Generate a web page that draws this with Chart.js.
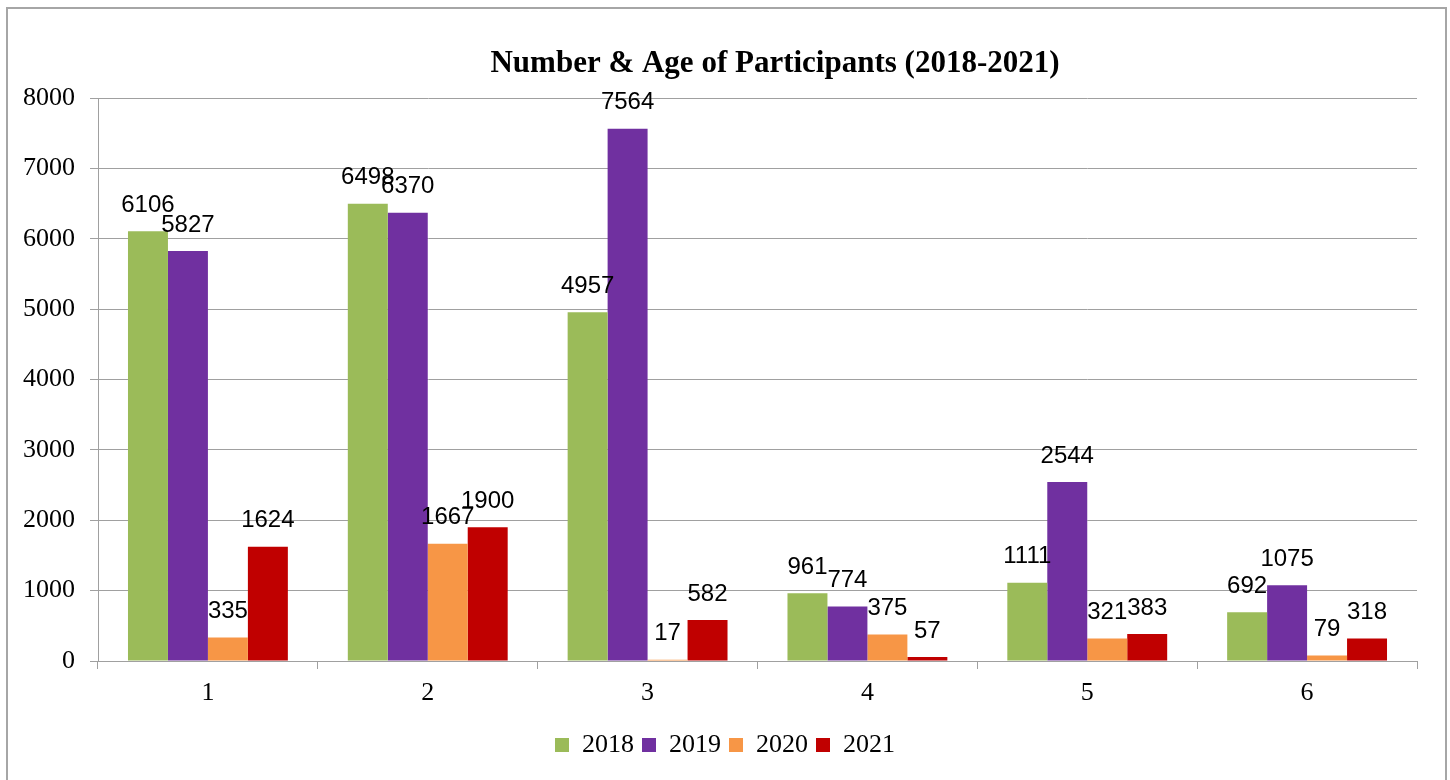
<!DOCTYPE html>
<html>
<head>
<meta charset="utf-8">
<script src="https://cdn.jsdelivr.net/npm/chart.js@4"></script>
<style>
  html, body { margin: 0; padding: 0; background: #fff; }
  #wrap { position: relative; width: 1450px; height: 780px; overflow: hidden; }
  #frame { position: absolute; left: 6px; top: 7px; width: 1437px; height: 800px; border: 2px solid #a6a6a6; }
  canvas { position: absolute; left: 0; top: 0; }
</style>
</head>
<body>
<div id="wrap">
  <div id="frame"></div>
  <canvas id="chart" width="1450" height="780"></canvas>
</div>
<script>
// chart values
const categories = ['1', '2', '3', '4', '5', '6'];
const years = ['2018', '2019', '2020', '2021'];
const values2018 = [6106, 6498, 4957, 961, 1111, 692];
const values2019 = [5827, 6370, 7564, 774, 2544, 1075];
const values2020 = [335, 1667, 17, 375, 321, 79];
const values2021 = [1624, 1900, 582, 57, 383, 318];
const yTicks = [0, 1000, 2000, 3000, 4000, 5000, 6000, 7000, 8000];
const chartTitle = 'Number & Age of Participants (2018-2021)';

const barColors = ['#9bbb59', '#7030a0', '#f79646', '#c00000'];
const series = [values2018, values2019, values2020, values2021];
const serif = '"Liberation Serif", "Times New Roman", serif';

// labels above every bar, Excel style
const barLabels = {
    id: 'barLabels',
    afterDatasetsDraw(chart) {
        const ctx = chart.ctx;
        ctx.save();
        ctx.font = '24px "Liberation Sans", Arial, sans-serif';
        ctx.fillStyle = '#000';
        ctx.textAlign = 'center';
        ctx.textBaseline = 'middle';
        chart.data.datasets.forEach((ds, i) => {
            chart.getDatasetMeta(i).data.forEach((bar, j) => {
                ctx.fillText(String(ds.data[j]), bar.x, bar.y - 26);
            });
        });
        ctx.restore();
    }
};

const titlePlugin = {
    id: 'topTitle',
    afterDraw(chart) {
        const ctx = chart.ctx;
        ctx.save();
        ctx.font = 'bold 31px ' + serif;
        ctx.fillStyle = '#000';
        ctx.textAlign = 'center';
        ctx.textBaseline = 'middle';
        ctx.fillText(chartTitle, 775, 64);
        ctx.restore();
    }
};

const ctx = document.getElementById('chart');

new Chart(ctx, {
    type: 'bar',
    data: {
        labels: categories,
        datasets: years.map((y, i) => ({
            label: y,
            data: series[i],
            backgroundColor: barColors[i],
            borderWidth: 0,
            categoryPercentage: 160 / 220,
            barPercentage: 1
        }))
    },
    options: {
        responsive: false,
        animation: false,
        layout: { padding: { top: 98, right: 0, bottom: 12, left: 0 } },
        plugins: {
            title: { display: false },
            tooltip: { enabled: false },
            legend: {
                position: 'bottom',
                labels: {
                    color: '#000',
                    font: { family: serif, size: 26 },
                    boxWidth: 14,
                    boxHeight: 14,
                    padding: 8
                }
            }
        },
        scales: {
            x: {
                grid: {
                    display: true,
                    drawOnChartArea: false,
                    drawTicks: true,
                    tickLength: 8,
                    color: '#a0a0a0',
                    offset: true
                },
                border: { display: true, color: '#a0a0a0', width: 1 },
                ticks: {
                    color: '#000',
                    padding: 9,
                    font: { family: serif, size: 26 }
                },
                afterFit(scale) { scale.height = 63; }
            },
            y: {
                min: 0,
                max: 8000,
                afterBuildTicks(scale) { scale.ticks = yTicks.map(v => ({ value: v })); },
                grid: { color: '#a0a0a0', tickLength: 8, lineWidth: 1 },
                border: { display: true, color: '#a0a0a0', width: 1 },
                ticks: {
                    color: '#000',
                    padding: 15,
                    font: { family: serif, size: 26 },
                    callback: v => String(v)
                },
                afterFit(scale) { scale.width = 98; }
            },
            // empty spacer on the right so the legend stays centred on the page
            spacer: {
                type: 'linear',
                position: 'right',
                display: true,
                grid: { display: false },
                border: { display: false },
                ticks: { display: false },
                afterFit(scale) { scale.width = 33; }
            }
        }
    },
    plugins: [barLabels, titlePlugin]
});
</script>
</body>
</html>
